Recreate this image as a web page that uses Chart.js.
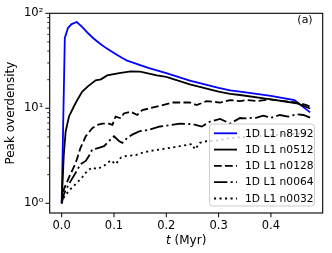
<!DOCTYPE html>
<html><head><meta charset="utf-8">
<script src="https://cdn.jsdelivr.net/npm/chart.js@4.4.0/dist/chart.umd.min.js"></script>
<style>html,body{margin:0;padding:0;background:#fff;}canvas{display:block;}</style>
</head><body>
<canvas id="c" width="332" height="253"></canvas>
<script>
// ---- data ----
const seriesLabels = ["1D L1 n8192", "1D L1 n0512", "1D L1 n0128", "1D L1 n0064", "1D L1 n0032"];

const tN8192 = [0, 0.006, 0.012, 0.019, 0.029, 0.04, 0.05, 0.06, 0.071, 0.085, 0.103, 0.115, 0.125, 0.135, 0.15, 0.167, 0.2, 0.245, 0.3, 0.322, 0.341, 0.4, 0.445, 0.475];
const vN8192 = [1, 55, 70, 77, 81, 71, 62, 55, 49, 43, 37.3, 34, 31.8, 30.5, 28.5, 26.5, 23.5, 19.6, 16.4, 15.4, 15.0, 13.5, 12.2, 9.05];

const tN0512 = [0, 0.004, 0.0076, 0.014, 0.0235, 0.029, 0.039, 0.05, 0.065, 0.075, 0.087, 0.11, 0.132, 0.15, 0.167, 0.182, 0.2, 0.245, 0.3, 0.322, 0.341, 0.4, 0.449, 0.475];
const vN0512 = [1, 3.2, 5.7, 8.2, 10.5, 12, 14.9, 17, 19.7, 20.2, 22.2, 23.5, 24.5, 24.3, 23.2, 22.2, 21.4, 17.9, 15.0, 14.2, 13.8, 12.4, 11.3, 9.95];

const tN0128 = [0, 0.0045, 0.014, 0.027, 0.036, 0.046, 0.0585, 0.068, 0.0776, 0.09, 0.097, 0.103, 0.113, 0.119, 0.132, 0.1446, 0.154, 0.167, 0.213, 0.245, 0.258, 0.277, 0.303, 0.322, 0.341, 0.354, 0.373, 0.398, 0.424, 0.449, 0.468, 0.475];
const vN0128 = [1, 1.42, 1.87, 2.68, 3.83, 5.07, 6.18, 6.7, 6.9, 6.9, 6.7, 8.17, 7.85, 8.83, 9.2, 8.5, 9.58, 9.95, 11.5, 11.5, 10.8, 11.9, 11.5, 12.2, 11.9, 12.2, 11.9, 12.4, 11.9, 11.5, 10.8, 10.4];

const tN0064 = [0, 0.0045, 0.014, 0.027, 0.036, 0.046, 0.052, 0.0585, 0.071, 0.081, 0.09, 0.1, 0.11, 0.116, 0.125, 0.135, 0.148, 0.167, 0.188, 0.226, 0.252, 0.268, 0.284, 0.303, 0.322, 0.341, 0.35, 0.373, 0.385, 0.4, 0.417, 0.433, 0.449, 0.462, 0.475];
const vN0064 = [1, 1.26, 1.6, 2.11, 2.58, 2.79, 3.14, 3.69, 3.83, 3.99, 4.5, 5.07, 4.5, 4.32, 4.86, 5.28, 5.71, 5.94, 6.43, 6.9, 6.79, 6.43, 7.25, 7.73, 6.9, 7.9, 7.84, 7.96, 8.36, 7.96, 8.5, 8.17, 8.63, 8.5, 7.96];

const tN0032 = [0, 0.0045, 0.014, 0.027, 0.039, 0.049, 0.0585, 0.068, 0.081, 0.094, 0.103, 0.113, 0.122, 0.1415, 0.154, 0.167, 0.188, 0.226, 0.249, 0.255, 0.264, 0.277, 0.296, 0.315, 0.335, 0.36, 0.39, 0.42, 0.45, 0.475];
const vN0032 = [1, 1.16, 1.36, 1.6, 1.87, 2.2, 2.38, 2.29, 2.48, 2.84, 2.58, 3.02, 3.14, 3.22, 3.4, 3.54, 3.69, 3.99, 4.2, 3.69, 4.32, 4.5, 4.57, 4.79, 4.94, 5.0, 5.15, 5.3, 5.4, 5.3];

const xTickValues = [0, 0.1, 0.2, 0.3, 0.4];
const yMajorTicks = [1, 10, 100];
const yMajorLabels = ["10\u2070", "10\u00B9", "10\u00B2"];
const yMinorTicks = [2, 3, 4, 5, 6, 7, 8, 9, 20, 30, 40, 50, 60, 70, 80, 90];

// ---- build ----
const pts = (t, v) => t.map((x, i) => ({x: x, y: v[i]}));
const FONT = 'DejaVu Sans';
const styles = [
  {color: '#0000ff', dash: []},
  {color: '#000000', dash: []},
  {color: '#000000', dash: [7.7, 3.3]},
  {color: '#000000', dash: [13.3, 3.3, 2.1, 3.3]},
  {color: '#000000', dash: [2.1, 3.4]}
];
const dataSets = [pts(tN8192, vN8192), pts(tN0512, vN0512), pts(tN0128, vN0128), pts(tN0064, vN0064), pts(tN0032, vN0032)];

const datasets = dataSets.map((d, i) => ({
  label: seriesLabels[i],
  data: d,
  borderColor: styles[i].color,
  borderDash: styles[i].dash,
  borderWidth: 1.8,
  pointRadius: 0,
  tension: 0,
  fill: false,
  order: 5 - i
}));

Chart.defaults.font.family = FONT;
Chart.defaults.font.size = 11.5;
Chart.defaults.color = '#000';

const decor = {
  id: 'decor',
  afterDatasetsDraw(chart) {
    const ctx = chart.ctx;
    // legend
    const L = 209.5, T = 124, R = 314.5, B = 206, r = 3;
    ctx.save();
    ctx.beginPath();
    ctx.moveTo(L + r, T); ctx.lineTo(R - r, T); ctx.arcTo(R, T, R, T + r, r);
    ctx.lineTo(R, B - r); ctx.arcTo(R, B, R - r, B, r);
    ctx.lineTo(L + r, B); ctx.arcTo(L, B, L, B - r, r);
    ctx.lineTo(L, T + r); ctx.arcTo(L, T, L + r, T, r);
    ctx.closePath();
    ctx.fillStyle = 'rgba(255,255,255,0.8)';
    ctx.fill();
    ctx.strokeStyle = '#cccccc';
    ctx.lineWidth = 1;
    ctx.stroke();
    ctx.font = '10.7px ' + FONT;
    ctx.textBaseline = 'middle';
    ctx.textAlign = 'left';
    seriesLabels.forEach((lab, i) => {
      const y = 133.3 + i * 16.3;
      ctx.beginPath();
      ctx.setLineDash(styles[i].dash);
      ctx.strokeStyle = styles[i].color;
      ctx.lineWidth = 1.8;
      ctx.moveTo(214, y); ctx.lineTo(237, y);
      ctx.stroke();
      ctx.setLineDash([]);
      ctx.fillStyle = '#000';
      ctx.fillText(lab, 245, y + 0.5);
    });
    ctx.restore();
  },
  afterDraw(chart) {
    const ctx = chart.ctx;
    const a = chart.chartArea;
    const xs = chart.scales.x, ys = chart.scales.y;
    ctx.save();
    ctx.strokeStyle = '#000';
    ctx.lineWidth = 1.1;
    ctx.setLineDash([]);
    ctx.strokeRect(a.left, a.top, a.right - a.left, a.bottom - a.top);
    ctx.lineWidth = 1;
    ctx.beginPath();
    xTickValues.forEach(v => {
      const x = xs.getPixelForValue(v);
      ctx.moveTo(x, a.bottom); ctx.lineTo(x, a.bottom + 4.3);
    });
    yMajorTicks.forEach(v => {
      const y = ys.getPixelForValue(v);
      ctx.moveTo(a.left, y); ctx.lineTo(a.left - 4.3, y);
    });
    ctx.stroke();
    ctx.lineWidth = 0.8;
    ctx.beginPath();
    yMinorTicks.forEach(v => {
      const y = ys.getPixelForValue(v);
      ctx.moveTo(a.left, y); ctx.lineTo(a.left - 2.5, y);
    });
    ctx.stroke();
    // x title with italic t
    ctx.fillStyle = '#000';
    ctx.textBaseline = 'middle';
    ctx.textAlign = 'left';
    const fI = 'italic 12px ' + FONT, fN = '12px ' + FONT;
    ctx.font = fI; const w1 = ctx.measureText('t').width;
    ctx.font = fN; const w2 = ctx.measureText(' (Myr)').width;
    const cx = (a.left + a.right) / 2;
    const x0 = cx - (w1 + w2) / 2, ty = 241;
    ctx.font = fI; ctx.fillText('t', x0, ty);
    ctx.font = fN; ctx.fillText(' (Myr)', x0 + w1, ty);
    // panel tag
    ctx.font = '11px ' + FONT;
    ctx.textAlign = 'center';
    ctx.fillText('(a)', 305, 20);
    ctx.restore();
  }
};

new Chart(document.getElementById('c'), {
  type: 'line',
  data: {datasets: datasets},
  options: {
    responsive: false,
    animation: false,
    devicePixelRatio: 1,
    layout: {padding: {left: 0, top: 10, right: 9.3, bottom: 0}},
    plugins: {legend: {display: false}, tooltip: {enabled: false}},
    scales: {
      x: {
        type: 'linear',
        min: -0.0229, max: 0.499,
        grid: {display: false, drawTicks: false},
        border: {display: false},
        afterBuildTicks: s => { s.ticks = xTickValues.map(v => ({value: v})); },
        afterFit: s => { s.height = 40; },
        ticks: {padding: 6, autoSkip: false, maxRotation: 0, callback: v => Number(v).toFixed(1)}
      },
      y: {
        type: 'logarithmic',
        min: 0.79, max: 100,
        grid: {display: false, drawTicks: false},
        border: {display: false},
        afterBuildTicks: s => { s.ticks = yMajorTicks.map(v => ({value: v})); },
        afterFit: s => { s.width = 49.7; },
        ticks: {padding: 6.4, autoSkip: false, callback: (v) => { const k = yMajorTicks.indexOf(v); return k >= 0 ? yMajorLabels[k] : ''; }},
        title: {display: true, text: 'Peak overdensity', padding: {top: 3.8, bottom: 0}, font: {size: 12}}
      }
    }
  },
  plugins: [decor]
});
</script>
</body></html>
